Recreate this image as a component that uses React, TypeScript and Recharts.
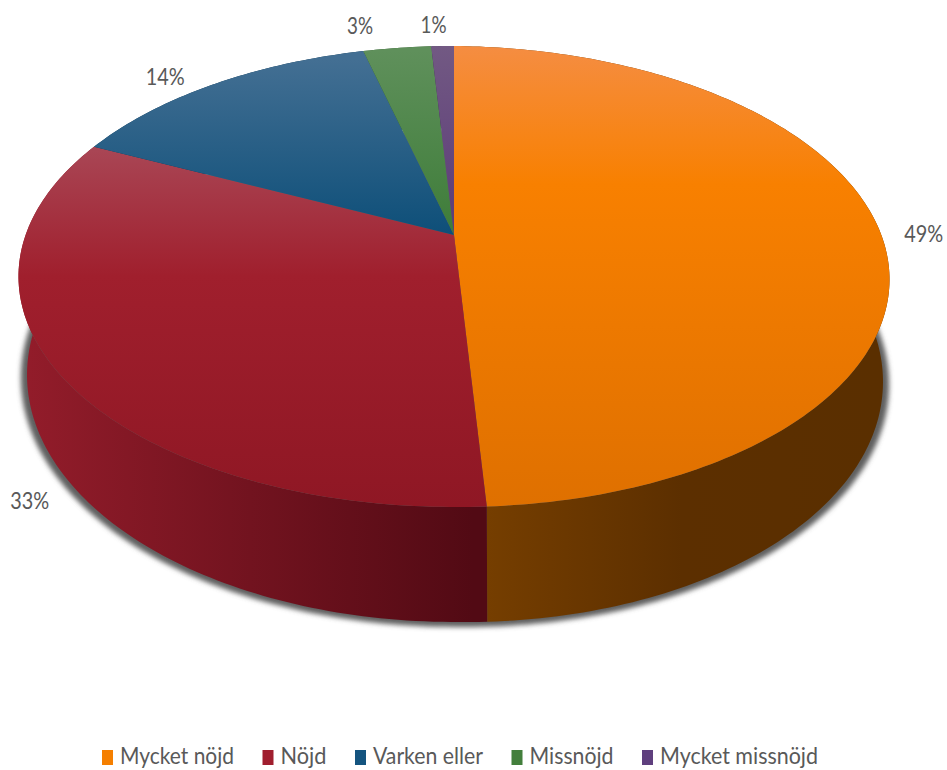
import React from 'react';
import { PieChart, Pie, Legend } from 'recharts';

const categories = ['Mycket nöjd', 'Nöjd', 'Varken eller', 'Missnöjd', 'Mycket missnöjd'];
const shares = [49, 33, 14, 3, 1];
const legendColors = ['#F57F00', '#A01E2E', '#14547F', '#437F3C', '#5F3F7E'];
const legendWidths = [114, 46, 110, 84, 158];

// vertical shading of the top face, one stop list per slice: [offset, colour]
const topStops = [
  [[0, '#F58D42'], [0.3, '#F88000'], [1, '#DF7000']],
  [[0.22, '#A94655'], [0.5, '#A01F2D'], [1, '#8F1724']],
  [[0.03, '#436F93'], [0.42, '#0C4E78']],
  [[0.01, '#5F905B'], [0.42, '#3D7C38']],
  [[0, '#725983'], [0.42, '#5B3A78']],
];
// horizontal shading of the outer wall
const wallStops = [
  [[0.5, '#773F00'], [0.72, '#5C2F00'], [0.93, '#5A2F00']],
  [[0.03, '#921C2A'], [0.5, '#520A14']],
  [[0, '#0A3550'], [1, '#0A3550']],
  [[0, '#2A5526'], [1, '#2A5526']],
  [[0, '#3C2850'], [1, '#3C2850']],
];
const labelOffsets = [
  [44, 1],
  [-30, 125],
  [-49, -9],
  [-37, -23],
  [-9, -23],
];

const tableData = categories.map((name, i) => ({ name, value: shares[i], fill: legendColors[i] }));
const wholePie = [{ name: 'shadow', value: shares.reduce((a, b) => a + b, 0) }];

const CX = 454;
const CY = 235;
const TILT = -0.18;
const FONT = 'Lato, "Noto Sans", sans-serif';

// Perspective disc: sends a unit-circle point to the page, keeps lines straight.
// sag drops the right-hand side a little, the disc is not quite level.
type Disc = { x: number; y: number; kx: number; ky: number; sag: number };
const topDisc: Disc = { x: 0, y: 0, kx: 428.4, ky: 223, sag: 3 };
const baseDisc: Disc = { x: 1, y: 95.5, kx: 421, ky: 239, sag: 7 };
const shadowDisc: Disc = { x: 1, y: 98, kx: 427, ky: 241, sag: 7 };

const project = (d: Disc, cx: number, cy: number, deg: number) => {
  const a = (deg * Math.PI) / 180;
  const u = Math.cos(a);
  const v = -Math.sin(a);
  const w = 1 + TILT * v;
  return [cx + d.x + (d.kx * u) / w, cy + d.y + (d.ky * v) / w + d.sag * Math.max(0, u)];
};

const arcPoints = (d: Disc, cx: number, cy: number, from: number, to: number) => {
  const steps = Math.max(2, Math.ceil(Math.abs(to - from)));
  const pts: number[][] = [];
  for (let i = 0; i <= steps; i++) pts.push(project(d, cx, cy, from + ((to - from) * i) / steps));
  return pts;
};

const toPath = (pts: number[][]) =>
  pts.map((p, i) => `${i ? 'L' : 'M'}${p[0].toFixed(2)},${p[1].toFixed(2)}`).join(' ') + ' Z';

const TopSlice = (props: any) => {
  const { cx, cy, startAngle, endAngle, index } = props;
  const id = `top-${index}`;
  const pts = [[cx, cy], ...arcPoints(topDisc, cx, cy, startAngle, endAngle)];
  return (
    <g>
      <defs>
        <linearGradient id={id} gradientUnits="userSpaceOnUse" x1={0} y1={46} x2={0} y2={507}>
          {topStops[index].map(([o, c]) => (
            <stop key={o as number} offset={o as number} stopColor={c as string} />
          ))}
        </linearGradient>
      </defs>
      <path d={toPath(pts)} fill={`url(#${id})`} />
    </g>
  );
};

const WallSlice = (props: any) => {
  const { cx, cy, startAngle, endAngle, index } = props;
  const id = `wall-${index}`;
  const upper = arcPoints(topDisc, cx, cy, startAngle, endAngle);
  const lower = arcPoints(baseDisc, cx, cy, startAngle, endAngle).reverse();
  return (
    <g>
      <defs>
        <linearGradient id={id} gradientUnits="userSpaceOnUse" x1={0} y1={0} x2={947} y2={0}>
          {wallStops[index].map(([o, c]) => (
            <stop key={o as number} offset={o as number} stopColor={c as string} />
          ))}
        </linearGradient>
      </defs>
      <path d={toPath([...upper, ...lower])} fill={`url(#${id})`} />
    </g>
  );
};

const ShadowDisc = (props: any) => {
  const { cx, cy, startAngle, endAngle } = props;
  return (
    <g>
      <defs>
        <filter id="soft" x="-5%" y="-5%" width="110%" height="110%">
          <feGaussianBlur stdDeviation="2.5" />
        </filter>
      </defs>
      <path d={toPath(arcPoints(shadowDisc, cx, cy, startAngle, endAngle))} fill="#5f5f5f" filter="url(#soft)" />
    </g>
  );
};

const renderLabel = (props: any) => {
  const { cx, cy, midAngle, index } = props;
  const [x, y] = project(topDisc, cx, cy, midAngle);
  const text = `${shares[index]}%`;
  return (
    <text
      x={x + labelOffsets[index][0]}
      y={y + labelOffsets[index][1]}
      textAnchor="middle"
      dominantBaseline="central"
      fontFamily={FONT}
      fontSize={24}
      fill="#595959"
      textLength={text.length * 13}
      lengthAdjust="spacingAndGlyphs"
    >
      {text}
    </text>
  );
};

// Legend row, squeezed to the narrow look of the labels
const LegendRow = () => {
  let x = 102;
  return (
    <svg width={947} height={30} style={{ display: 'block' }}>
      {categories.map((name, i) => {
        const left = x;
        x += 18 + legendWidths[i] + 28.5;
        return (
          <g key={name}>
            <rect x={left} y={10} width={11} height={15} fill={legendColors[i]} />
            <text
              x={left + 18}
              y={24}
              fontFamily={FONT}
              fontSize={23}
              fill="#595959"
              textLength={legendWidths[i]}
              lengthAdjust="spacingAndGlyphs"
            >
              {name}
            </text>
          </g>
        );
      })}
    </svg>
  );
};

export default function App() {
  return (
    <div style={{ position: 'absolute', left: 0, top: 0, width: 947, height: 770 }}>
      <PieChart width={947} height={770} margin={{ top: 0, right: 0, bottom: 0, left: 0 }}>
        <Pie
          data={wholePie}
          dataKey="value"
          cx={CX}
          cy={CY}
          outerRadius={200}
          startAngle={90}
          endAngle={-270}
          stroke="none"
          legendType="none"
          shape={ShadowDisc}
          isAnimationActive={false}
        />
        <Pie
          data={tableData}
          dataKey="value"
          nameKey="name"
          cx={CX}
          cy={CY}
          outerRadius={200}
          startAngle={90}
          endAngle={-270}
          stroke="none"
          legendType="none"
          shape={WallSlice}
          isAnimationActive={false}
        />
        <Pie
          data={tableData}
          dataKey="value"
          nameKey="name"
          cx={CX}
          cy={CY}
          outerRadius={200}
          startAngle={90}
          endAngle={-270}
          stroke="none"
          shape={TopSlice}
          label={renderLabel}
          labelLine={false}
          isAnimationActive={false}
        />
        <Legend
          content={<LegendRow />}
          wrapperStyle={{ position: 'absolute', left: 0, top: 740, width: 947, height: 30 }}
        />
      </PieChart>
    </div>
  );
}
